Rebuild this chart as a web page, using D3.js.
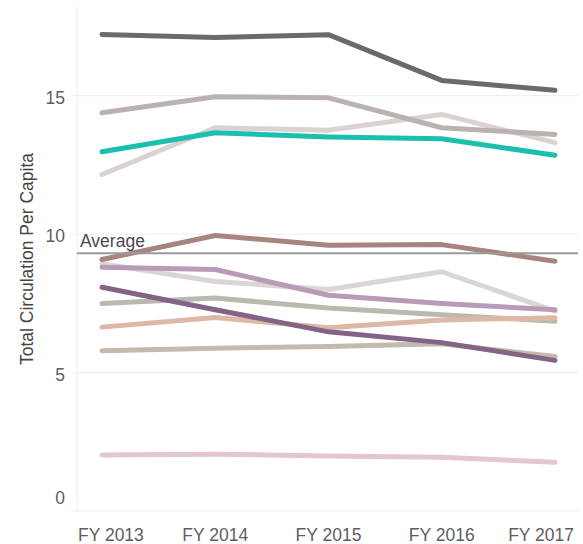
<!DOCTYPE html>
<html>
<head>
<meta charset="utf-8">
<script src="https://cdn.jsdelivr.net/npm/d3@7"></script>
<style>
  body { margin: 0; background: #fff; }
  text { font-family: "Liberation Sans", Arial, sans-serif; }
</style>
</head>
<body>
<div id="chart"></div>
<script>
var years = ["FY 2013", "FY 2014", "FY 2015", "FY 2016", "FY 2017"];
var yTicks = [0, 5, 10, 15];
var average = 9.31;

// one array per library line, drawn back to front
var lightGrayA = [12.15, 13.84, 13.75, 14.32, 13.30];
var lightGrayB = [8.93, 8.29, 8.00, 8.64, 7.22];
var taupeHigh = [14.38, 14.96, 14.92, 13.84, 13.60];
var darkGray = [17.21, 17.10, 17.20, 15.55, 15.19];
var teal = [12.97, 13.66, 13.51, 13.44, 12.85];
var brown = [9.08, 9.95, 9.60, 9.62, 9.02];
var sage = [7.49, 7.69, 7.33, 7.09, 6.85];
var peach = [6.64, 6.99, 6.62, 6.90, 6.98];
var taupeLow = [5.79, 5.88, 5.94, 6.04, 5.58];
var lavender = [8.80, 8.72, 7.79, 7.49, 7.27];
var darkPurple = [8.08, 7.27, 6.47, 6.08, 5.44];
var pink = [2.02, 2.05, 1.99, 1.94, 1.76];

var series = [
    {values: lightGrayA, color: "#d9d2d1"},
    {values: lightGrayB, color: "#dbd5d4"},
    {values: taupeHigh, color: "#bab2b1"},
    {values: darkGray, color: "#6a6a6a"},
    {values: teal, color: "#1bbfad"},
    {values: brown, color: "#a8847f"},
    {values: sage, color: "#b9b9b0"},
    {values: peach, color: "#deb8a6"},
    {values: taupeLow, color: "#c3b9ad"},
    {values: lavender, color: "#b89bb9"},
    {values: darkPurple, color: "#836386"},
    {values: pink, color: "#e2c6d1"}
];

var width = 583, height = 544;

var svg = d3.select("#chart")
    .append("svg")
    .attr("width", width)
    .attr("height", height);

var x = d3.scalePoint()
    .domain(years)
    .range([102, 555]);
var y = d3.scaleLinear()
    .domain([0, 18.2])
    .range([511, 7]);

// grid lines
svg.append("g")
    .selectAll("line")
    .data(yTicks)
    .enter()
    .append("line")
    .attr("x1", 71)
    .attr("x2", 578)
    .attr("y1", d => y(d))
    .attr("y2", d => y(d))
    .style("stroke", "#eeeeee")
    .style("stroke-width", 1);
svg.append("line")
    .attr("x1", 77)
    .attr("x2", 77)
    .attr("y1", 7)
    .attr("y2", y(0))
    .style("stroke", "#eeeeee")
    .style("stroke-width", 1);

// y tick labels
svg.append("g")
    .selectAll("text")
    .data(yTicks)
    .enter()
    .append("text")
    .attr("x", 65)
    .attr("y", d => d === 0 ? y(0) - 13 : y(d) + 2)
    .attr("dy", "0.35em")
    .attr("text-anchor", "end")
    .style("font-size", "17.5px")
    .style("fill", "#5e5e5e")
    .text(d => d);

// x tick labels, kept inside the plot edges
svg.append("g")
    .selectAll("text")
    .data(years)
    .enter()
    .append("text")
    .attr("y", 541)
    .attr("text-anchor", "middle")
    .style("font-size", "17.5px")
    .style("fill", "#5e5e5e")
    .text(d => d)
    .attr("x", function(d) {
        var w = this.getComputedTextLength();
        var cx = x(d);
        cx = Math.max(cx, 78 + w / 2);
        cx = Math.min(cx, 574 - w / 2);
        return cx;
    });

// y axis title
svg.append("text")
    .attr("transform", "translate(33,259) rotate(-90)")
    .attr("text-anchor", "middle")
    .style("font-size", "17.5px")
    .style("fill", "#444444")
    .text("Total Circulation Per Capita");

// series lines
var line = d3.line()
    .x((d, i) => x(years[i]))
    .y(d => y(d));

svg.append("g")
    .selectAll("path")
    .data(series)
    .enter()
    .append("path")
    .attr("d", d => line(d.values))
    .style("fill", "none")
    .style("stroke", d => d.color)
    .style("stroke-width", 5)
    .style("stroke-linecap", "round")
    .style("stroke-linejoin", "round");

// average reference line
svg.append("line")
    .attr("x1", 77)
    .attr("x2", 578)
    .attr("y1", y(average))
    .attr("y2", y(average))
    .style("stroke", "#9a9a9a")
    .style("stroke-width", 2);
svg.append("text")
    .attr("x", 80)
    .attr("y", y(average) - 6)
    .style("font-size", "17.5px")
    .style("fill", "#4a4a4a")
    .text("Average");
</script>
</body>
</html>
